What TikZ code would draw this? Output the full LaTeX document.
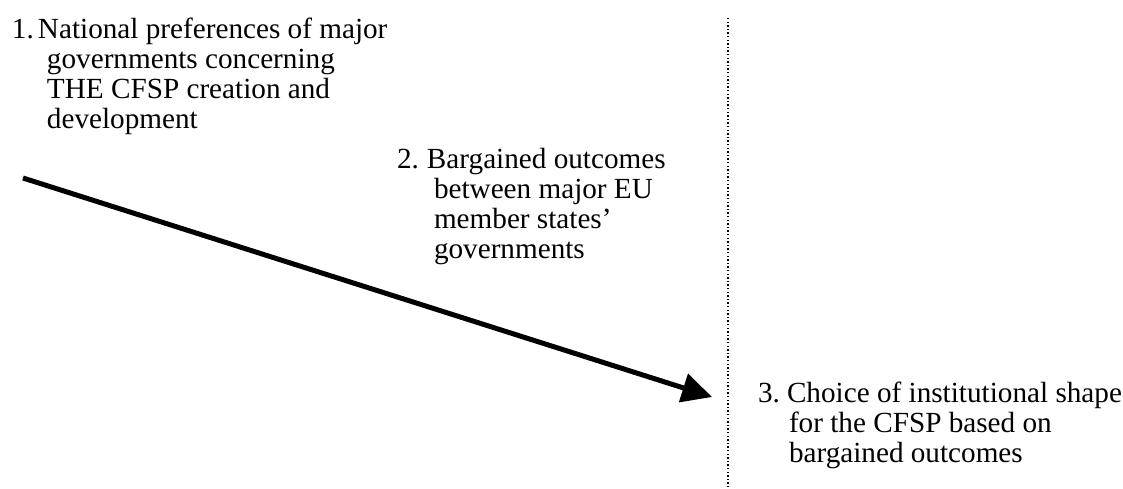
\documentclass[tikz,border=0pt]{standalone}
\usepackage{fontspec}
\setmainfont{Liberation Serif}
\usetikzlibrary{arrows.meta}
\tikzset{
  label text/.style={anchor=base west, inner sep=0pt, outer sep=0pt, font=\fontsize{29.2}{30}\selectfont},
  main arrow/.style={line width=5pt, -{Triangle[length=30pt, width=29pt]}},
  divider/.style={line width=1.4pt, dash pattern=on 1.4pt off 2.2pt},
}
\begin{document}
\begin{tikzpicture}[x=1pt, y=-1pt]
\useasboundingbox (0,0) rectangle (1123,489);
\node[label text] (t1) at (12,39) {\begin{tabular}[t]{@{}l@{}}
\makebox[26pt][l]{1.}National preferences of major\\
\hspace*{35pt}governments concerning\\
\hspace*{35pt}THE CFSP creation and\\
\hspace*{35pt}development
\end{tabular}};
\node[label text] (t2) at (397,168) {\begin{tabular}[t]{@{}l@{}}
\makebox[30pt][l]{2.}Bargained outcomes\\
\hspace*{37pt}between major EU\\
\hspace*{37pt}member states'\\
\hspace*{37pt}governments
\end{tabular}};
\node[label text] (t3) at (758,402) {\begin{tabular}[t]{@{}l@{}}
\makebox[29pt][l]{3.}Choice of institutional shape\\
\hspace*{31pt}for the CFSP based on\\
\hspace*{31pt}bargained outcomes
\end{tabular}};
\coordinate (as) at (23,178);
\coordinate (ae) at (712,397);
\coordinate (dt) at (728,18);
\coordinate (db) at (728,489);
\draw[divider] (dt) -- (db);
\draw[main arrow] (as) -- (ae);
\end{tikzpicture}
\end{document}
